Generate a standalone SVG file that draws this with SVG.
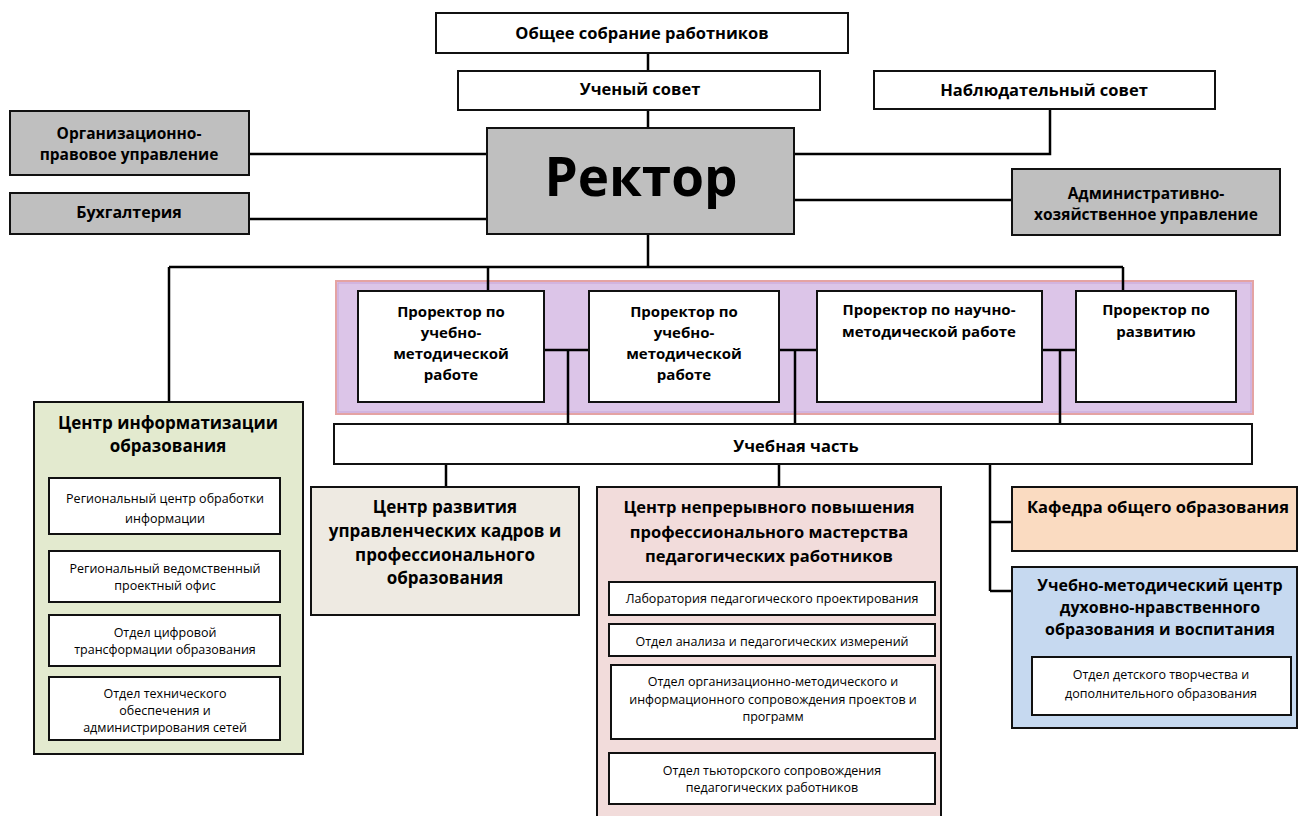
<svg xmlns="http://www.w3.org/2000/svg" width="1298" height="816" viewBox="0 0 1298 816">
<style>
.b{stroke:#111;stroke-width:2}
.w{fill:#fff}
.g{fill:#bfbfbf}
.t{font-family:"Open Sans","Noto Sans",sans-serif;font-weight:bold;fill:#000;text-anchor:middle}
.s{font-family:"Open Sans","Noto Sans",sans-serif;font-size:12.5px;fill:#000;text-anchor:middle}
.c{fill:none;stroke:#000;stroke-width:2.5}
</style>
<rect width="1298" height="816" fill="#fff"/>
<g id="band">
<rect x="336" y="281" width="917" height="133" fill="#dcc5e8" stroke="#e4a3a3" stroke-width="2"/>
<rect x="338" y="283" width="913" height="129" fill="none" stroke="#c7a3d6" stroke-width="1"/>
</g>
<g id="connectors">
<path class="c" d="M648 53V71M648 110V128"/>
<path class="c" d="M249 154H487M249 219H487"/>
<path class="c" d="M794 154H1050V109M794 200H1012"/>
<path class="c" d="M648 234V267M169 267H1123M169 267V402M488 267V291M1123 267V291"/>
<path class="c" d="M544 350H589M568 350V424M779 350H817M795 350V424M1042 350H1076M1060 350V424"/>
<path class="c" d="M446 464V487M779 464V487M990 464V591M990 522H1012M990 591H1012"/>
</g>
<g id="general"><rect class="b w" x="436" y="13" width="412" height="40"/><text class="t" x="642" y="38.5" font-size="16.5">Общее собрание работников</text></g>
<g id="academic"><rect class="b w" x="458" y="71" width="362" height="39"/><text class="t" x="640" y="95" font-size="16.5">Ученый совет</text></g>
<g id="supervisory"><rect class="b w" x="874" y="71" width="341" height="38"/><text class="t" x="1044" y="95.5" font-size="16.5">Наблюдательный совет</text></g>
<g id="rector"><rect class="b g" x="487" y="128" width="307" height="106"/><text class="t" x="641" y="196" font-size="53">Ректор</text></g>
<g id="legal"><rect class="b g" x="10" y="111" width="239" height="64"/><text class="t" x="129" y="138.5" font-size="15.5">Организационно-</text><text class="t" x="129" y="159.5" font-size="15.5">правовое управление</text></g>
<g id="accounting"><rect class="b g" x="10" y="193" width="239" height="41"/><text class="t" x="129" y="218" font-size="16">Бухгалтерия</text></g>
<g id="admin"><rect class="b g" x="1012" y="169" width="268" height="66"/><text class="t" x="1146" y="199" font-size="15.5">Административно-</text><text class="t" x="1146" y="220" font-size="15.5">хозяйственное управление</text></g>
<g id="vp1"><rect class="b w" x="358" y="291" width="186" height="111"/><text class="t" x="451" y="317" font-size="15">Проректор по</text><text class="t" x="451" y="338" font-size="15">учебно-</text><text class="t" x="451" y="359" font-size="15">методической</text><text class="t" x="451" y="380" font-size="15">работе</text></g>
<g id="vp2"><rect class="b w" x="589" y="291" width="190" height="111"/><text class="t" x="684" y="317" font-size="15">Проректор по</text><text class="t" x="684" y="338" font-size="15">учебно-</text><text class="t" x="684" y="359" font-size="15">методической</text><text class="t" x="684" y="380" font-size="15">работе</text></g>
<g id="vp3"><rect class="b w" x="817" y="291" width="225" height="111"/><text class="t" x="929" y="315" font-size="15">Проректор по научно-</text><text class="t" x="929" y="337" font-size="15">методической работе</text></g>
<g id="vp4"><rect class="b w" x="1076" y="291" width="160" height="111"/><text class="t" x="1156" y="315" font-size="15">Проректор по</text><text class="t" x="1156" y="337" font-size="15">развитию</text></g>
<g id="study"><rect class="b w" x="334" y="424" width="918" height="40"/><text class="t" x="796" y="452" font-size="16.5">Учебная часть</text></g>
<g id="informatization">
<rect class="b" x="34" y="402" width="269" height="352" fill="#e3eacf"/>
<text class="t" x="168" y="429" font-size="17">Центр информатизации</text><text class="t" x="168" y="452" font-size="17">образования</text>
<rect class="b w" x="49" y="478" width="231" height="56"/><text class="s" x="165" y="502.5">Региональный центр обработки</text><text class="s" x="165" y="522.5">информации</text>
<rect class="b w" x="49" y="551" width="231" height="51"/><text class="s" x="165" y="572.5">Региональный ведомственный</text><text class="s" x="165" y="589.5">проектный офис</text>
<rect class="b w" x="49" y="615" width="231" height="51"/><text class="s" x="165" y="636.5">Отдел цифровой</text><text class="s" x="165" y="653.5">трансформации образования</text>
<rect class="b w" x="49" y="677" width="231" height="63"/><text class="s" x="165" y="697.5">Отдел технического</text><text class="s" x="165" y="714.5">обеспечения и</text><text class="s" x="165" y="732">администрирования сетей</text>
</g>
<g id="management">
<rect class="b" x="311" y="487" width="268" height="128" fill="#eeeae2"/>
<text class="t" x="445" y="513" font-size="17">Центр развития</text><text class="t" x="445" y="537" font-size="17">управленческих кадров и</text><text class="t" x="445" y="560.5" font-size="17">профессионального</text><text class="t" x="445" y="584" font-size="17">образования</text>
</g>
<g id="continuous">
<rect class="b" x="597" y="487" width="344" height="335" fill="#f2dcdb"/>
<text class="t" x="769" y="513" font-size="16.5">Центр непрерывного повышения</text><text class="t" x="769" y="538" font-size="16.5">профессионального мастерства</text><text class="t" x="769" y="562" font-size="16.5">педагогических работников</text>
<rect class="b w" x="609" y="582" width="326" height="33"/><text class="s" x="772" y="602.5">Лаборатория педагогического проектирования</text>
<rect class="b w" x="609" y="624" width="326" height="32"/><text class="s" x="772" y="645.5">Отдел анализа и педагогических измерений</text>
<rect class="b w" x="611" y="665" width="324" height="74"/><text class="s" x="773" y="685.5">Отдел организационно-методического и</text><text class="s" x="773" y="703.5">информационного сопровождения проектов и</text><text class="s" x="773" y="720.5">программ</text>
<rect class="b w" x="609" y="753" width="326" height="51"/><text class="s" x="772" y="774.5">Отдел тьюторского сопровождения</text><text class="s" x="772" y="791.5">педагогических работников</text>
</g>
<g id="department">
<rect class="b" x="1012" y="487" width="285" height="64" fill="#fadbc1"/>
<text class="t" x="1158" y="513" font-size="16.5">Кафедра общего образования</text>
</g>
<g id="moral">
<rect class="b" x="1012" y="567" width="285" height="161" fill="#c6d9f0"/>
<text class="t" x="1160" y="591" font-size="16">Учебно-методический центр</text><text class="t" x="1160" y="613" font-size="16">духовно-нравственного</text><text class="t" x="1160" y="635" font-size="16">образования и воспитания</text>
<rect class="b w" x="1032" y="657" width="259" height="58"/><text class="s" x="1161" y="678.5">Отдел детского творчества и</text><text class="s" x="1161" y="697.5">дополнительного образования</text>
</g>
</svg>
